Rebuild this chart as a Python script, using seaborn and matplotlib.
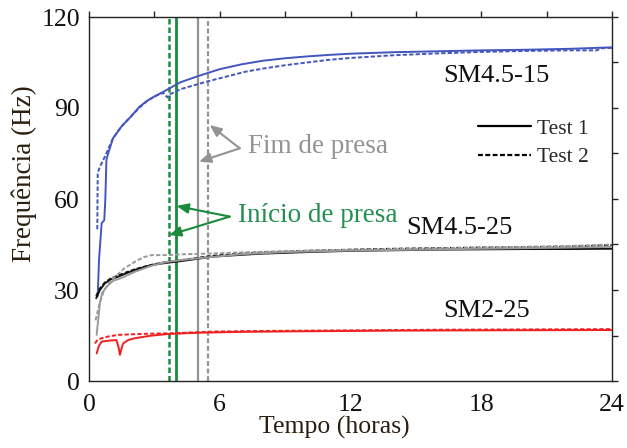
import numpy as np
import pandas as pd
import matplotlib
matplotlib.use("Agg")
import matplotlib.pyplot as plt
from matplotlib.lines import Line2D
from matplotlib.ticker import MultipleLocator
import seaborn as sns

# ---- data (tempo in hours, frequência in Hz) ----
sm15_t1_t = [0.40, 0.46, 0.58, 0.70, 0.75, 0.80, 0.88, 1.1, 1.5, 1.9, 2.3, 2.65, 3.0, 3.4, 3.65,
             4.2, 5.0, 6.0, 7.0, 8.0, 9.0, 10.0, 11.0, 12.0, 14.0, 16.0, 18.0, 20.0, 22.0, 24.0]
sm15_t1_f = [28, 40, 52, 53, 60, 73, 75, 80, 84, 87, 90.3, 92.3, 93.8, 95.3, 96.3,
             98.5, 100.5, 102.8, 104.4, 105.6, 106.4, 107, 107.5, 107.9, 108.4, 108.7, 109, 109.2, 109.5, 110]
sm15_t2_t = [0.38, 0.40, 0.50, 0.73, 1.1, 1.5, 1.9, 2.3, 2.65, 3.0, 3.4, 3.6, 3.7, 4.2, 5.4, 6.0,
             7.2, 8.0, 9.0, 10.9, 12.0, 14.0, 16.0, 18.0, 20.0, 22.0, 23.3, 23.5, 24.0]
sm15_t2_f = [50, 68.5, 70.6, 74, 80, 84, 87, 90, 92.2, 93.8, 95.0, 93.5, 94.5, 96.2, 98.7, 99.8,
             102, 103, 104.1, 105.8, 106.5, 107.4, 108, 108.5, 108.8, 109, 109, 109.7, 109.8]

sm25_t = [0.33, 0.5, 0.73, 1.0, 1.34, 1.7, 2.1, 2.5, 2.87, 3.3, 3.63, 4.4, 5.0, 5.7,
          7, 8, 10, 12, 14, 16, 18, 20, 22, 24]
sm25_a1_f = [27.3, 30, 32.2, 33.5, 34.4, 35.5, 36.6, 37.5, 38.2, 38.7, 39.0, 39.7, 40.3, 41,
             41.6, 42, 42.5, 42.9, 43.1, 43.3, 43.4, 43.5, 43.5, 43.6]
sm25_a2_f = [28, 30.5, 32.5, 33.8, 34.8, 35.8, 36.8, 37.6, 38.3, 38.9, 39.3, 40.0, 40.6, 41.3,
             42.0, 42.4, 42.9, 43.3, 43.6, 43.8, 44.0, 44.1, 44.3, 44.8]
sm25_b1_t = [0.35, 0.45, 0.5, 0.6, 0.8, 1.1, 1.5, 2.1, 2.87, 3.6, 4.4, 5.5, 7, 9, 12, 16, 20, 24]
sm25_b1_f = [15.2, 22, 25.6, 29, 31, 33, 34, 36, 38, 39.3, 40, 40.8, 41.8, 42.5, 43, 43.4, 43.8, 44.2]
sm25_b2_t = [0.3, 0.5, 0.7, 1.0, 1.3, 1.6, 2.1, 2.5, 2.87, 3.6, 4.4, 5.5, 7, 10, 14, 18, 22, 24]
sm25_b2_f = [20, 26, 30, 33, 35, 37, 39.3, 40.8, 41.5, 41.5, 41.8, 42, 42.4, 43, 43.5, 44, 44.5, 45]

sm2_t1_t = [0.35, 0.45, 0.58, 0.9, 1.26, 1.36, 1.42, 1.5, 1.57, 1.8, 2.1, 2.8, 3.63,
            5, 7, 10, 14, 18, 24]
sm2_t1_f = [9.1, 11.5, 13, 13.3, 13.5, 11, 8.6, 11, 12.4, 13.5, 14.1, 14.9, 15.5,
            15.9, 16.2, 16.4, 16.6, 16.7, 16.8]
sm2_t2_t = [0.27, 0.4, 0.58, 0.9, 1.34, 2.0, 2.8, 3.63, 5.77, 8, 12, 16, 20, 24]
sm2_t2_f = [12.4, 13.6, 14.1, 14.7, 15.2, 15.4, 15.6, 15.7, 16.3, 16.5, 16.7, 16.9, 17.0, 17.1]

# setting times (início / fim de presa) for tests 1 and 2
inicio_presa = {"Test 1": 3.98, "Test 2": 3.67}
fim_presa = {"Test 1": 5.0, "Test 2": 5.44}

curves = [
    ("SM4.5-15", "Test 1", sm15_t1_t, sm15_t1_f),
    ("SM4.5-15", "Test 2", sm15_t2_t, sm15_t2_f),
    ("SM4.5-25 a", "Test 1", sm25_t, sm25_a1_f),
    ("SM4.5-25 a", "Test 2", sm25_t, sm25_a2_f),
    ("SM4.5-25 b", "Test 1", sm25_b1_t, sm25_b1_f),
    ("SM4.5-25 b", "Test 2", sm25_b2_t, sm25_b2_f),
    ("SM2-25", "Test 1", sm2_t1_t, sm2_t1_f),
    ("SM2-25", "Test 2", sm2_t2_t, sm2_t2_f),
]
df = pd.concat(
    [pd.DataFrame({"tempo": t, "freq": f, "curva": c, "teste": s}) for c, s, t, f in curves],
    ignore_index=True,
)

palette = {"SM4.5-15": "#4356bd", "SM4.5-25 a": "#111111",
           "SM4.5-25 b": "#9a9a9a", "SM2-25": "#f02020"}
dashes = {"Test 1": "", "Test 2": (2.2, 1.1)}

# ---- style ----
sns.set_style("white")
plt.rcParams["font.family"] = ["Liberation Serif", "DejaVu Serif"]

fig = plt.figure(figsize=(6.27, 4.48), dpi=100)
ax = fig.add_axes([89 / 627, 1 - 381 / 448, (612 - 89) / 627, (381 - 17) / 448])

green = "#1b8a3e"
grey = "#939393"
ax.axvline(inicio_presa["Test 2"], color=green, lw=1.8, ls=(0, (2.2, 1.2)), zorder=1)
ax.axvline(inicio_presa["Test 1"], color=green, lw=2.0, zorder=1)
ax.axvline(fim_presa["Test 1"], color=grey, lw=1.6, zorder=1)
ax.axvline(fim_presa["Test 2"], color=grey, lw=1.6, ls=(0, (2.2, 1.2)), zorder=1)

sns.lineplot(data=df, x="tempo", y="freq", hue="curva", style="teste",
             palette=palette, dashes=dashes, estimator=None, sort=False,
             linewidth=1.4, legend=False, ax=ax, zorder=3)

ax.set_xlim(0, 24)
ax.set_ylim(0, 120)
ax.xaxis.set_major_locator(MultipleLocator(6))
ax.xaxis.set_minor_locator(MultipleLocator(3))
ax.yaxis.set_major_locator(MultipleLocator(30))
ax.yaxis.set_minor_locator(MultipleLocator(15))
ax.tick_params(which="major", direction="inout", length=9, width=1.0,
               labelsize=18.5, colors="#111111", pad=2)
ax.tick_params(axis="x", which="major", pad=5)
ax.tick_params(which="minor", direction="in", length=4, width=1.0)
for sp in ax.spines.values():
    sp.set_color("#222222")
    sp.set_linewidth(1.0)

# mirror ticks on top and right, pointing outward
top = ax.secondary_xaxis("top")
top.xaxis.set_major_locator(MultipleLocator(3))
top.tick_params(direction="out", length=4, labeltop=False, width=1.0)
top.spines["top"].set_visible(False)
right = ax.secondary_yaxis("right")
right.yaxis.set_major_locator(MultipleLocator(15))
right.tick_params(direction="out", length=4, labelright=False, width=1.0)
right.spines["right"].set_visible(False)

label_col = "#2b1e0e"
ax.set_xlabel("Tempo (horas)", fontsize=18.5, color=label_col)
ax.set_ylabel("Frequência (Hz)", fontsize=19.5, color=label_col)
ax.xaxis.set_label_coords(0.47, -0.095)
ax.yaxis.set_label_coords(-0.10, 0.571)

# series labels
ax.text(18.7, 100.6, "SM4.5-15", fontsize=19, ha="center", va="center", color="#111111")
ax.text(17.0, 50.4, "SM4.5-25", fontsize=19, ha="center", va="center", color="#111111")
ax.text(18.25, 23.1, "SM2-25", fontsize=19, ha="center", va="center", color="#111111")

# setting-time annotations
ax.text(7.28, 77.3, "Fim de presa", fontsize=19.5, ha="left", va="center", color=grey)
for tip in [(5.54, 84.4), (5.05, 72.3)]:
    ax.annotate("", xy=tip, xytext=(6.92, 76.7),
                arrowprops=dict(arrowstyle="-|>,head_length=0.7,head_width=0.3",
                                color=grey, lw=1.5, shrinkA=0, shrinkB=0))
ax.text(6.83, 54.4, "Início de presa", fontsize=19.5, ha="left", va="center", color="#239050")
for tip in [(4.02, 57.7), (3.68, 48.1)]:
    ax.annotate("", xy=tip, xytext=(6.46, 54.2),
                arrowprops=dict(arrowstyle="-|>,head_length=0.7,head_width=0.3",
                                color=green, lw=1.5, shrinkA=0, shrinkB=0))

handles = [Line2D([], [], color="black", lw=1.6, ls="-"),
           Line2D([], [], color="black", lw=1.6, ls=(0, (2.2, 1.1)))]
ax.legend(handles, ["Test 1", "Test 2"], loc="upper left",
          bbox_to_anchor=(0.744, 0.72), frameon=False, fontsize=15.5,
          handlelength=2.45, handletextpad=0.3, labelspacing=0.38, borderpad=0,
          borderaxespad=0)

fig.savefig("out.png", dpi=100)
